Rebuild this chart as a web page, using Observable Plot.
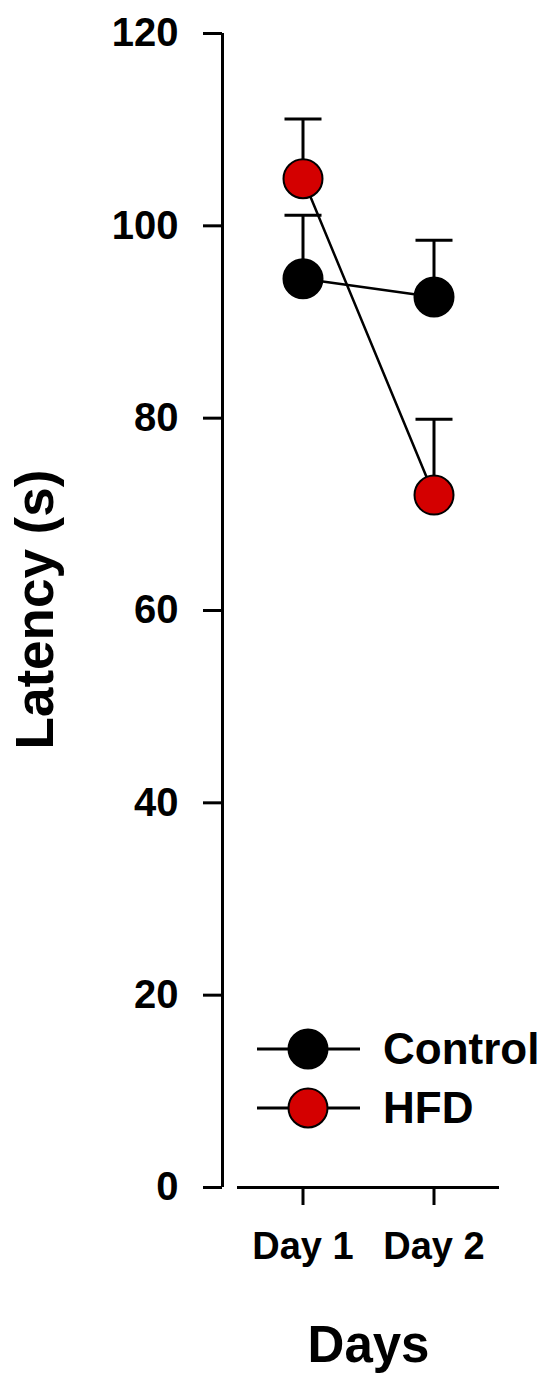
<!DOCTYPE html>
<html><head><meta charset="utf-8">
<script src="https://cdn.jsdelivr.net/npm/d3@7"></script>
<script src="https://cdn.jsdelivr.net/npm/@observablehq/plot@0.6"></script>
<style>body{margin:0;background:#fff}</style>
</head><body><div id="chart"></div>
<script>
const dayLabels = ["Day 1", "Day 2"];
const dayIndex = [1, 2];
const seriesNames = ["Control", "HFD"];
const controlMean = [94.5, 92.6];
const controlSem = [6.6, 5.9];
const hfdMean = [104.9, 72.0];
const hfdSem = [6.2, 7.9];
const yTicks = [0, 20, 40, 60, 80, 100, 120];
const xDomain = [0.5, 2.5];
const yDomain = [0, 120];
const colors = ["#000000", "#d40000"];

const rows = [];
dayIndex.forEach((d, i) => {
  rows.push({series: "Control", day: d, mean: controlMean[i], upper: controlMean[i] + controlSem[i]});
  rows.push({series: "HFD", day: d, mean: hfdMean[i], upper: hfdMean[i] + hfdSem[i]});
});

const capSymbol = { draw(ctx, size) { ctx.moveTo(-18.5, 0); ctx.lineTo(18.5, 0); } };
const FONT = "'Liberation Sans', Arial, sans-serif";

function legendMark(index, scales, values, dimensions) {
  const g = d3.create("svg:g");
  const x0 = dimensions.marginLeft;
  const yb = dimensions.height - dimensions.marginBottom;
  seriesNames.forEach((name, i) => {
    const cy = yb - 138 + i * 59;
    g.append("line").attr("x1", x0 + 20).attr("x2", x0 + 123).attr("y1", cy).attr("y2", cy)
      .attr("stroke", "#000").attr("stroke-width", 3);
    g.append("circle").attr("cx", x0 + 71).attr("cy", cy).attr("r", 19.5)
      .attr("fill", colors[i]).attr("stroke", "#000").attr("stroke-width", 2);
    g.append("text").attr("x", x0 + 146).attr("y", cy).attr("dy", "0.35em")
      .attr("text-anchor", "start")
      .attr("font-size", 44).attr("font-weight", "bold").attr("font-family", FONT)
      .attr("fill", "#000").text(name);
  });
  return g.node();
}

const chart = Plot.plot({
  width: 550,
  height: 1386,
  marginTop: 33,
  marginBottom: 199,
  marginLeft: 237,
  marginRight: 51,
  style: {fontFamily: FONT, fontWeight: "bold", background: "#fff", color: "#000"},
  x: {domain: xDomain},
  y: {domain: yDomain},
  color: {domain: seriesNames, range: colors},
  marks: [
    Plot.ruleY([yDomain[0]], {stroke: "#000", strokeWidth: 3}),
    Plot.ruleX([xDomain[0]], {y1: yDomain[0], y2: yDomain[1], dx: -15, stroke: "#000", strokeWidth: 3}),
    Plot.axisY({ticks: yTicks, tickSize: 19, tickPadding: 25, dx: -15, fontSize: 40, fontWeight: "bold", strokeWidth: 3, label: null}),
    Plot.axisX({ticks: dayIndex, tickFormat: d => dayLabels[d - 1], tickSize: 18, tickPadding: 27, fontSize: 38, fontWeight: "bold", strokeWidth: 3, label: null}),
    Plot.text(["Latency (s)"], {frameAnchor: "left", textAnchor: "middle", lineAnchor: "middle", dx: -201, dy: -1, rotate: -90, fontSize: 53, fontWeight: "bold", fill: "#000"}),
    Plot.text(["Days"], {frameAnchor: "bottom", textAnchor: "middle", lineAnchor: "middle", dx: 0, dy: 158, fontSize: 51, fontWeight: "bold", fill: "#000"}),
    Plot.ruleX(rows, {x: "day", y1: "mean", y2: "upper", stroke: "#000", strokeWidth: 3}),
    Plot.dot(rows, {x: "day", y: "upper", symbol: capSymbol, fill: "none", stroke: "#000", strokeWidth: 3}),
    Plot.line(rows, {x: "day", y: "mean", z: "series", stroke: "#000", strokeWidth: 2.5}),
    Plot.dot(rows, {x: "day", y: "mean", r: 19.5, fill: "series", stroke: "#000", strokeWidth: 2}),
    legendMark
  ]
});
document.getElementById("chart").appendChild(chart);
</script>
</body></html>
